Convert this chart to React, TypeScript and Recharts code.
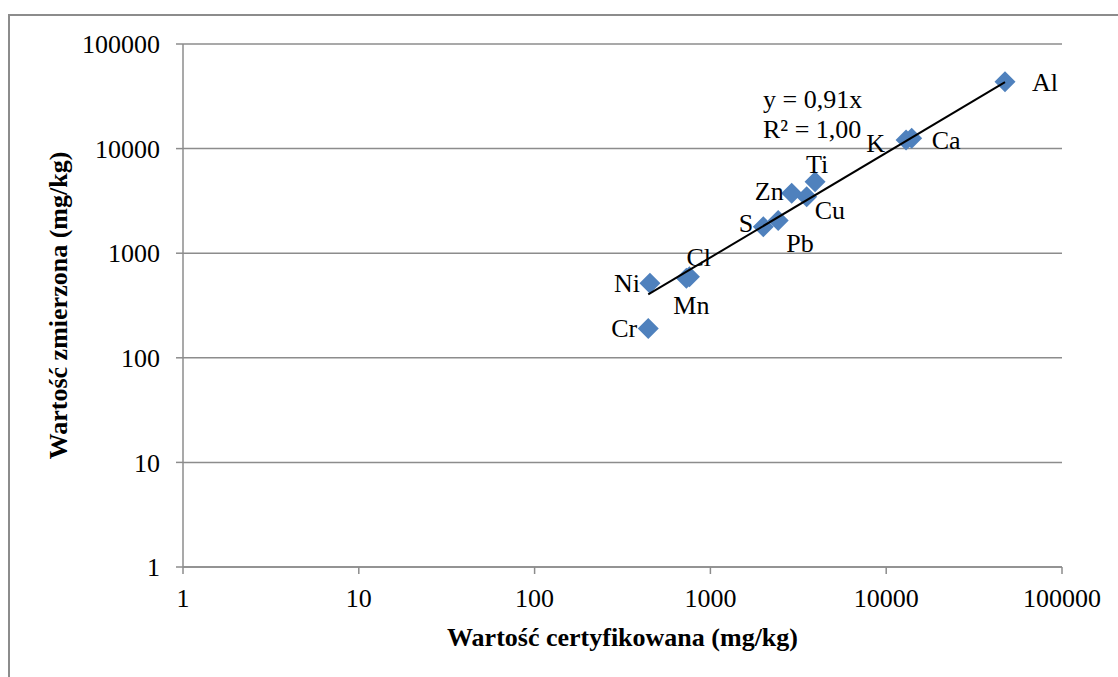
import { ScatterChart, Scatter, XAxis, YAxis, CartesianGrid, Label } from 'recharts';

const elements = ['Al', 'Ca', 'K', 'Ti', 'Zn', 'Cu', 'S', 'Pb', 'Cl', 'Mn', 'Ni', 'Cr'];
const certified = [47400, 13960, 12970, 3940, 2900, 3530, 2000, 2430, 760, 730, 453, 443];
const measured = [43600, 12540, 12080, 4830, 3740, 3470, 1790, 2050, 596, 575, 515, 191];
const logTicks = [1, 10, 100, 1000, 10000, 100000];
const TREND_SLOPE = 0.91;
const equationLines = ['y = 0,91x', 'R² = 1,00'];

// where each element's label sits relative to its marker
const LABEL_POS: Record<string, { anchor: 'start' | 'middle' | 'end'; dx: number; dy: number }> = {
  Al: { anchor: 'start', dx: 27, dy: 1 },
  Ca: { anchor: 'start', dx: 20, dy: 2 },
  K: { anchor: 'end', dx: -21, dy: 3 },
  Ti: { anchor: 'middle', dx: 2, dy: -17 },
  Zn: { anchor: 'end', dx: -8, dy: -2 },
  Cu: { anchor: 'start', dx: 8, dy: 14 },
  S: { anchor: 'end', dx: -10, dy: -3 },
  Pb: { anchor: 'start', dx: 8, dy: 23 },
  Cl: { anchor: 'start', dx: -3, dy: -19 },
  Mn: { anchor: 'start', dx: -13, dy: 27 },
  Ni: { anchor: 'end', dx: -10, dy: 0 },
  Cr: { anchor: 'end', dx: -11, dy: 0 },
};

const FONT = '"Liberation Serif", "Times New Roman", serif';
const GRID = '#8c8c8c';
const MARKER = '#4F81BD';

const points = elements.map((name, i) => ({ name, x: certified[i], y: measured[i] }));
const minX = Math.min(...certified);
const maxX = Math.max(...certified);
const trend = [
  { x: minX, y: TREND_SLOPE * minX },
  { x: maxX, y: TREND_SLOPE * maxX },
];

const Diamond = (props: any) => {
  const { cx, cy } = props;
  if (cx == null || cy == null) return <g />;
  const r = 10.5;
  return (
    <polygon
      points={`${cx},${cy - r} ${cx + r},${cy} ${cx},${cy + r} ${cx - r},${cy}`}
      fill={MARKER}
    />
  );
};

const PointLabel = (props: any) => {
  const { cx, cy, payload } = props;
  if (cx == null || cy == null || !payload) return <g />;
  const pos = LABEL_POS[payload.name] || { anchor: 'start', dx: 14, dy: 0 };
  return (
    <text
      x={cx + pos.dx}
      y={cy + pos.dy}
      textAnchor={pos.anchor}
      dominantBaseline="central"
      style={{ fontFamily: FONT, fontSize: 26 }}
      fill="#000"
    >
      {payload.name}
    </text>
  );
};

const fmt = (v: number) => String(v);

export default function App() {
  return (
    <div
      style={{
        position: 'absolute',
        left: 0,
        top: 0,
        width: 1118,
        height: 677,
        overflow: 'hidden',
        background: '#fff',
        fontFamily: FONT,
      }}
    >
      <div
        style={{
          position: 'absolute',
          left: 8,
          top: 14,
          width: 1140,
          height: 700,
          border: '2px solid #8c8c8c',
        }}
      />
      <div style={{ position: 'absolute', left: 0, top: 0, fontFamily: FONT }}>
        <ScatterChart
          width={1118}
          height={677}
          margin={{ top: 44, right: 56, bottom: 10, left: 43 }}
          style={{ fontFamily: FONT }}
        >
          <CartesianGrid horizontal vertical={false} stroke={GRID} strokeWidth={1.5} />
          <XAxis
            type="number"
            dataKey="x"
            scale="log"
            domain={[1, 100000]}
            ticks={logTicks}
            tickFormatter={fmt}
            allowDataOverflow
            height={100}
            stroke={GRID}
            strokeWidth={1.5}
            tickSize={7}
            tickMargin={15}
            tick={{ fontFamily: FONT, fontSize: 26, fill: '#000', style: { fontFamily: FONT } }}
            interval={0}
          >
            <Label
              content={(p: any) => {
                const vb = p.viewBox || { x: 183, y: 567, width: 879 };
                return (
                  <text
                    x={vb.x + vb.width / 2}
                    y={vb.y + 79}
                    textAnchor="middle"
                    style={{ fontFamily: FONT, fontSize: 26, fontWeight: 'bold' }}
                    fill="#000"
                  >
                    Wartość certyfikowana (mg/kg)
                  </text>
                );
              }}
            />
          </XAxis>
          <YAxis
            type="number"
            dataKey="y"
            scale="log"
            domain={[1, 100000]}
            ticks={logTicks}
            tickFormatter={fmt}
            allowDataOverflow
            width={140}
            stroke={GRID}
            strokeWidth={1.5}
            tickSize={7}
            tickMargin={16}
            tick={{ fontFamily: FONT, fontSize: 26, fill: '#000', style: { fontFamily: FONT } }}
            interval={0}
          >
            <Label
              content={(p: any) => {
                const vb = p.viewBox || { x: 43, y: 44, width: 140, height: 523 };
                const cx = vb.x + 24;
                const cy = vb.y + vb.height / 2;
                return (
                  <text
                    x={cx}
                    y={cy}
                    transform={`rotate(-90, ${cx}, ${cy})`}
                    textAnchor="middle"
                    style={{ fontFamily: FONT, fontSize: 26, fontWeight: 'bold' }}
                    fill="#000"
                  >
                    Wartość zmierzona (mg/kg)
                  </text>
                );
              }}
            />
          </YAxis>
          <Scatter data={points} shape={Diamond} isAnimationActive={false} />
          <Scatter
            data={trend}
            line={{ stroke: '#000', strokeWidth: 2 }}
            shape={() => <g />}
            isAnimationActive={false}
          />
          <Scatter data={points} shape={PointLabel} isAnimationActive={false} />
        </ScatterChart>
      </div>
      <svg width={1118} height={677} style={{ position: 'absolute', left: 0, top: 0, pointerEvents: 'none' }}>
        {equationLines.map((line, i) => (
          <text key={i} x={763} y={108 + i * 30} style={{ fontFamily: FONT, fontSize: 26 }} fill="#000">
            {line}
          </text>
        ))}
      </svg>
    </div>
  );
}
